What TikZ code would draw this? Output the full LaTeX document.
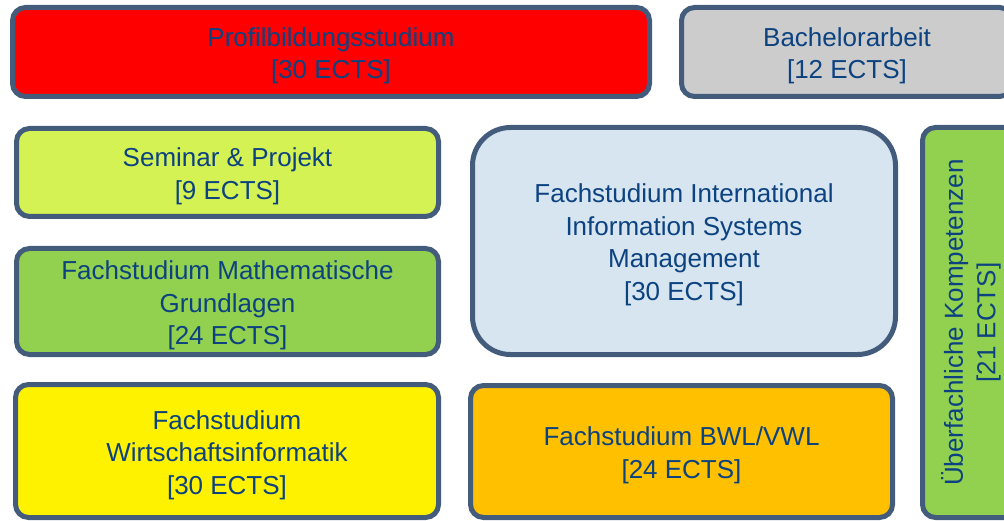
\documentclass[tikz,border=0pt]{standalone}
\usepackage{fontspec}
\setmainfont{Liberation Sans}
\definecolor{bordc}{RGB}{68,92,124}
\definecolor{txtc}{RGB}{12,66,128}
\definecolor{limec}{RGB}{212,242,84}
\definecolor{greenc}{RGB}{146,208,80}
\definecolor{grayc}{RGB}{204,204,204}
\definecolor{bluec}{RGB}{214,229,240}
\definecolor{orangec}{RGB}{255,192,0}
\tikzset{
  box/.style={draw=bordc, line width=5pt, rounded corners=13pt, inner sep=0pt},
  txt/.style={align=center, text=txtc, font=\fontsize{26}{32.5}\selectfont, inner sep=0pt},
}
\begin{document}
\begin{tikzpicture}[x=1pt,y=-1pt]
\useasboundingbox (0,0) rectangle (1004,521);
\clip (0,0) rectangle (1004,521);
\node[box, fill=red, minimum width=637pt, minimum height=89pt] (prof) at (331,52) {};
\node[txt] (proft) at ([yshift=-4pt]prof.center) {Profilbildungsstudium\\{}[30 ECTS]};
\node[box, fill=grayc, minimum width=331pt, minimum height=89pt] (bach) at (847,52) {};
\node[txt] (bacht) at ([yshift=-4pt]bach.center) {Bachelorarbeit\\{}[12 ECTS]};
\node[box, fill=limec, minimum width=422pt, minimum height=88pt] (sem) at (227.5,172.5) {};
\node[txt] (semt) at ([yshift=-4pt]sem.center) {Seminar \& Projekt\\{}[9 ECTS]};
\node[box, fill=greenc, minimum width=422pt, minimum height=106pt] (math) at (227.5,301.5) {};
\node[txt] (matht) at ([yshift=-4pt]math.center) {Fachstudium Mathematische\\Grundlagen\\{}[24 ECTS]};
\node[box, fill=yellow, minimum width=423pt, minimum height=133pt] (wi) at (227,451) {};
\node[txt] (wit) at ([yshift=-4pt]wi.center) {Fachstudium\\Wirtschaftsinformatik\\{}[30 ECTS]};
\node[box, fill=bluec, rounded corners=38pt, minimum width=423pt, minimum height=227pt] (iism) at (684,241) {};
\node[txt] (iismt) at ([yshift=-4pt]iism.center) {Fachstudium International\\Information Systems\\Management\\{}[30 ECTS]};
\node[box, fill=orangec, minimum width=422pt, minimum height=132pt] (bwl) at (681.5,451.5) {};
\node[txt] (bwlt) at ([yshift=-4pt]bwl.center) {Fachstudium BWL/VWL\\{}[24 ECTS]};
\node[box, fill=greenc, minimum width=97pt, minimum height=390pt] (ueb) at (971,322.5) {};
\node[txt, rotate=90] (uebt) at (ueb.center) {Überfachliche Kompetenzen\\{}[21 ECTS]};
\end{tikzpicture}
\end{document}
